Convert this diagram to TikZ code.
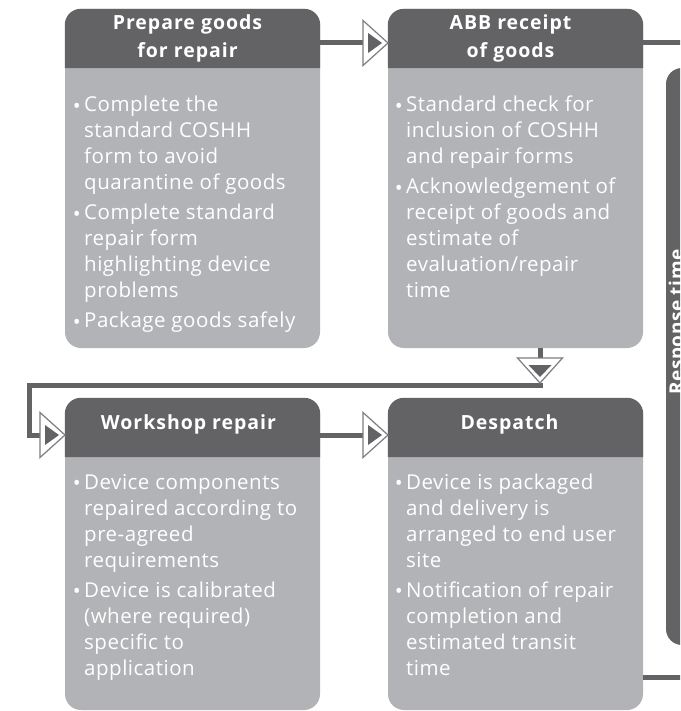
\documentclass[tikz,border=0pt]{standalone}
\usepackage{fontspec}
\setmainfont{Open Sans}
\definecolor{hdr}{RGB}{99,99,102}
\definecolor{bodyc}{RGB}{178,179,182}
\definecolor{triline}{RGB}{125,125,128}
\pgfdeclarelayer{bg}
\pgfsetlayers{bg,main}
\newcommand\bl{\llap{\fontsize{21}{21}\selectfont\raisebox{-1.5pt}{•}\hspace{3.5pt}}}
\tikzset{
  boxbody/.style={fill=bodyc, rounded corners=16pt, inner sep=0pt, minimum width=255pt},
  hdrbox/.style={inner sep=0pt, minimum width=255pt},
  hdrtext/.style={anchor=base, inner sep=0pt, text=white, font=\fontsize{19.5}{28}\selectfont\bfseries\addfontfeature{LetterSpace=5}},
  bodytext/.style={anchor=base west, inner sep=0pt, text=white, font=\fontsize{20.5}{26}\selectfont\addfontfeature{LetterSpace=2.5}},
  conn/.style={draw=hdr, line width=5pt},
  rtri/.pic={
    \path[draw=triline, fill=white, line width=1.2pt, line join=miter] (-12.5,-22.5) -- (12.5,0) -- (-12.5,22.5) -- cycle;
    \fill[hdr] (-7.5,-10) -- (6.5,0) -- (-7.5,10) -- cycle;
    \coordinate (-tip) at (12.5,0);
    \coordinate (-back) at (-12.5,0);
  },
  dtri/.pic={
    \path[draw=triline, fill=white, line width=1.2pt, line join=miter] (-22.5,-12.5) -- (0,12.5) -- (22.5,-12.5) -- cycle;
    \fill[hdr] (-11.5,-5.5) -- (0,6.5) -- (11.5,-5.5) -- cycle;
    \coordinate (-tip) at (0,12.5);
    \coordinate (-back) at (0,-12.5);
  }
}
\begin{document}
\begin{tikzpicture}[x=1pt,y=-1pt]
\useasboundingbox (0,0) rectangle (680,711);
\clip (0,0) rectangle (680,711);

% triangles (arrowheads)
\pic (t1) at (375.5,43) {rtri};
\pic (t2) at (540,370.5) {dtri};
\pic (t3) at (52.5,435) {rtri};
\pic (t4) at (375.5,435) {rtri};

\begin{pgfonlayer}{bg}
  \clip (0,0) rectangle (680,711);
  \fill[white] (0,0) rectangle (680,711);
  % boxes
  \node[boxbody, minimum height=339pt] (B1) at (192.5,178.5) {};
  \node[boxbody, minimum height=339pt] (B2) at (515.5,178.5) {};
  \node[boxbody, minimum height=312pt] (B3) at (192.5,554) {};
  \node[boxbody, minimum height=312pt] (B4) at (515.5,554) {};
  % header shapes
  \node[hdrbox, minimum height=59pt] (h1) at (192.5,38.5) {};
  \node[hdrbox, minimum height=59pt] (h2) at (515.5,38.5) {};
  \node[hdrbox, minimum height=59pt] (h3) at (192.5,427.5) {};
  \node[hdrbox, minimum height=59pt] (h4) at (515.5,427.5) {};
  \foreach \h in {h1,h2,h3,h4}{
    \fill[hdr] (\h.south west) {[rounded corners=16pt] -- (\h.north west) -- (\h.north east)} -- (\h.south east) -- cycle;
  }
  % response time bar
  \fill[hdr, rounded corners=16pt] (666,68) rectangle (710,645);
  % connectors
  \coordinate (re1) at (690,43);
  \coordinate (re2) at (690,677);
  \coordinate (lc) at (29,385);
  \draw[conn] (h1.east |- t1-back) -- (t1-back);
  \draw[conn] (h2.east |- re1) -- (re1);
  \draw[conn] (B2.south -| t2-back) -- (t2-back);
  \draw[conn] ([xshift=2.5pt,yshift=-2pt]t2-tip) -- (lc) |- (t3-back);
  \draw[conn] (h3.east |- t4-back) -- (t4-back);
  \draw[conn] (B4.east |- re2) -- (re2);
\end{pgfonlayer}

% header texts
\node[hdrtext] (l1) at (187.5,30) {\begin{tabular}[t]{@{}c@{}}Prepare goods\\for repair\end{tabular}};
\node[hdrtext] (l2) at (510.5,30) {\begin{tabular}[t]{@{}c@{}}ABB receipt\\of goods\end{tabular}};
\node[hdrtext] (l3) at (188.5,429) {Workshop repair};
\node[hdrtext] (l4) at (509.5,429) {Despatch};

% body texts
\node[bodytext] (x1) at (84,112) {\begin{tabular}[t]{@{}l@{}}\bl Complete the\\ standard COSHH\\ form to avoid\\ quarantine of goods\\[4pt] \bl Complete standard\\ repair form\\ highlighting device\\ problems\\[4pt] \bl Package goods safely\end{tabular}};
\node[bodytext] (x2) at (406,112) {\begin{tabular}[t]{@{}l@{}}\bl Standard check for\\ inclusion of COSHH\\ and repair forms\\[4pt] \bl Acknowledgement of\\ receipt of goods and\\ estimate of\\ evaluation/repair\\ time\end{tabular}};
\node[bodytext] (x3) at (84,489) {\begin{tabular}[t]{@{}l@{}}\bl Device components\\ repaired according to\\ pre-agreed\\ requirements\\[4pt] \bl Device is calibrated\\ (where required)\\ specific to\\ application\end{tabular}};
\node[bodytext] (x4) at (406,489) {\begin{tabular}[t]{@{}l@{}}\bl Device is packaged\\ and delivery is\\ arranged to end user\\ site\\[4pt] \bl Notification of repair\\ completion and\\ estimated transit\\ time\end{tabular}};

% response time label
\node[rotate=90, anchor=base, inner sep=0pt, text=white, font=\fontsize{19}{23}\selectfont\bfseries\addfontfeature{LetterSpace=3}] (rt) at (683,322) {Response time};
\end{tikzpicture}
\end{document}
